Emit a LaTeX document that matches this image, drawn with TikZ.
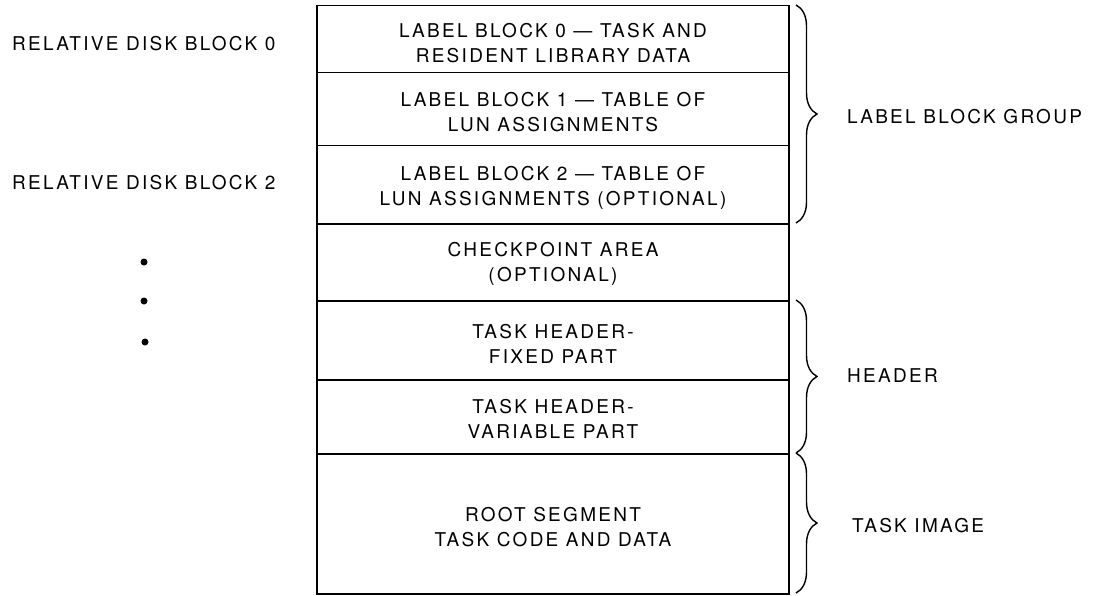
\documentclass[tikz,border=0pt]{standalone}
\usepackage{fontspec}
\setmainfont{TeX Gyre Heros}[LetterSpace=12]
\usetikzlibrary{decorations.pathreplacing}
\begin{document}
\begin{tikzpicture}[x=1pt,y=-1pt,
  txt/.style={font=\fontsize{19}{25}\selectfont, align=center, inner sep=0pt},
  rowbox/.style={draw, line width=1.5pt, minimum width=472pt, inner sep=0pt, anchor=north},
  brc/.style={decorate, decoration={brace, amplitude=21pt, aspect=0.5}, line width=1.4pt},
  lbl/.style={font=\fontsize{19}{25}\selectfont, inner sep=0pt, anchor=west}]
\useasboundingbox (0,0) rectangle (1094,596);
% rows
\node[rowbox, minimum height=67pt] (r0) at (553,5) {};
\node[rowbox, minimum height=73pt] (r1) at (553,72) {};
\node[rowbox, minimum height=78pt] (r2) at (553,145) {};
\node[rowbox, minimum height=77pt] (r3) at (553,223) {};
\node[rowbox, minimum height=79pt] (r4) at (553,300) {};
\node[rowbox, minimum height=74pt] (r5) at (553,379) {};
\node[rowbox, minimum height=140pt] (r6) at (553,453) {};
% texts
\node[txt] (t0) at (553,43) {LABEL BLOCK 0 --- TASK AND\\RESIDENT LIBRARY DATA};
\node[txt] (t1) at (553,112) {LABEL BLOCK 1 --- TABLE OF\\LUN ASSIGNMENTS};
\node[txt] (t2) at (553,188) {LABEL BLOCK 2 --- TABLE OF\\LUN ASSIGNMENTS (OPTIONAL)};
\node[txt] (t3) at (553,264) {CHECKPOINT AREA\\(OPTIONAL)};
\node[txt] (t4) at (553,344) {TASK HEADER-\\FIXED PART};
\node[txt] (t5) at (553,419) {TASK HEADER-\\VARIABLE PART};
\node[txt] (t6) at (553,527) {ROOT SEGMENT\\TASK CODE AND DATA};
% left labels
\node[lbl] (d0) at (12,44) {RELATIVE DISK BLOCK 0};
\node[lbl] (d2) at (12,183) {RELATIVE DISK BLOCK 2};
\fill (144,262) circle (3.5pt);
\fill (144,301) circle (3.5pt);
\fill (145,342) circle (3.5pt);
% braces
\coordinate (b0s) at (796,5);
\coordinate (b0e) at (796,223);
\coordinate (b1s) at (796,300);
\coordinate (b1e) at (796,453);
\coordinate (b2s) at (796,453);
\coordinate (b2e) at (796,593);
\draw[brc] (b0s) -- (b0e);
\draw[brc] (b1s) -- (b1e);
\draw[brc] (b2s) -- (b2e);
\node[lbl] (g0) at (847,117) {LABEL BLOCK GROUP};
\node[lbl] (g1) at (847,376) {HEADER};
\node[lbl] (g2) at (852,526) {TASK IMAGE};
\end{tikzpicture}
\end{document}
